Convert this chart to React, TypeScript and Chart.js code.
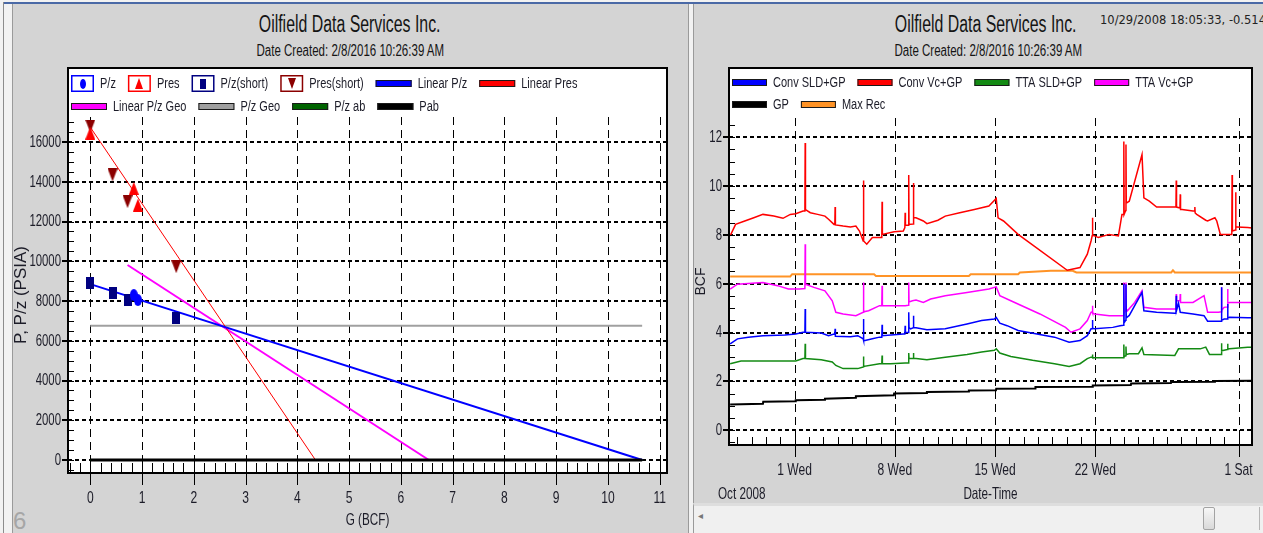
import React, { useEffect, useRef } from "react";
import { Chart, registerables } from "chart.js";

Chart.register(...registerables);

// ================= Left chart: P/z vs cumulative gas =================
const gTicks = [0, 1, 2, 3, 4, 5, 6, 7, 8, 9, 10, 11];
const pTicks = [0, 2000, 4000, 6000, 8000, 10000, 12000, 14000, 16000];

const pzG = [0.84, 0.92];
const pzVal = [8300, 8050];
const presG = [0, 0.84, 0.92];
const presVal = [16450, 13670, 12830];
const pzShortG = [0, 0.43, 0.72, 1.66];
const pzShortVal = [8890, 8385, 8050, 7130];
const presShortG = [0, 0.43, 0.72, 1.66];
const presShortVal = [16800, 14340, 13000, 9725];
const linearPzG = [0, 10.66];
const linearPzVal = [8850, 0];
const linearPresG = [0, 4.35];
const linearPresVal = [16750, 0];
const linearPzGeoG = [0.72, 6.54];
const linearPzGeoVal = [9810, 0];
const pzGeoG = [0, 10.66];
const pzGeoVal = [6760, 6760];
const pzAbG = [0, 10.66];
const pzAbVal = [0, 0];
const pabG = [0, 10.66];
const pabVal = [0, 0];

// ================= Right chart: BCF vs date (days from Oct 1 2008) =================
const dayTicks = [0, 7, 14, 21, 31];
const dayTickLabels = ["1 Wed", "8 Wed", "15 Wed", "22 Wed", "1 Sat"];
const bcfTicks = [0, 2, 4, 6, 8, 10, 12];

const convSldGp: [number, number][] = [
  [-4.5, 3.53], [-3.99, 3.74], [-3.23, 3.81], [-2.21, 3.87], [-0.68, 3.9], [0.08, 3.94], [0.59, 4.01],
  [0.72, 4.01], [0.74, 4.96], [0.76, 4.01], [1.86, 3.98], [2.37, 3.87], [2.75, 3.94], [2.81, 3.92],
  [2.83, 4.15], [2.85, 3.85], [3.9, 3.83], [4.41, 3.87], [4.79, 3.74], [4.81, 4.55], [4.83, 3.67],
  [4.92, 3.67], [5.43, 3.74], [5.93, 3.81], [6.09, 3.81], [6.11, 4.32], [6.13, 3.87], [7.59, 3.94],
  [7.7, 3.94], [7.72, 4.28], [7.74, 4.0], [7.95, 4.0], [7.97, 4.83], [7.99, 4.2], [8.1, 4.15],
  [8.28, 4.19], [8.3, 4.69], [8.32, 4.19], [8.48, 4.19], [9.24, 4.11], [10.52, 4.15], [12.04, 4.35],
  [13.06, 4.49], [13.95, 4.55], [14.08, 4.62], [14.33, 4.38], [14.84, 4.28], [15.61, 4.08],
  [18.15, 3.81], [19.17, 3.6], [19.93, 3.67], [20.44, 3.87], [20.7, 4.15], [20.78, 4.15],
  [20.8, 4.51], [20.82, 4.18], [20.95, 4.15], [22.22, 4.21], [22.73, 4.28], [22.97, 4.3],
  [22.99, 5.98], [23.01, 4.4], [23.12, 4.5], [23.14, 5.98], [23.16, 4.6], [23.37, 4.7],
  [24.26, 5.64], [24.39, 4.89], [25.28, 4.83], [26.55, 4.79], [26.63, 4.79], [26.65, 5.51],
  [26.67, 4.9], [26.81, 5.2], [26.93, 4.83], [27.82, 4.76], [28.59, 4.69], [28.84, 4.46],
  [29.73, 4.46], [29.79, 4.46], [29.81, 5.85], [29.83, 4.5], [29.99, 4.55], [30.22, 4.55],
  [30.24, 5.17], [30.26, 4.6], [30.37, 4.62], [31.64, 4.6], [32.61, 4.6],
];

const convVcGp: [number, number][] = [
  [-4.5, 7.96], [-4.12, 8.43], [-3.48, 8.57], [-2.85, 8.7], [-2.21, 8.84], [-1.45, 8.77], [-0.81, 8.68],
  [-0.3, 8.84], [0.08, 8.87], [0.59, 8.98], [0.72, 8.98], [0.74, 11.77], [0.76, 9.04], [1.1, 8.91],
  [1.61, 8.84], [2.12, 8.77], [2.37, 8.64], [2.75, 8.43], [2.81, 8.43], [2.83, 9.14], [2.85, 8.41],
  [3.39, 8.36], [3.9, 8.32], [4.28, 8.36], [4.53, 8.16], [4.79, 7.75], [4.81, 10.23], [4.83, 7.75],
  [5.04, 7.62], [5.43, 7.89], [5.93, 7.89], [6.09, 7.89], [6.11, 9.36], [6.13, 8.02], [6.95, 8.13],
  [7.59, 8.16], [7.7, 8.3], [7.72, 8.91], [7.74, 8.4], [7.95, 8.4], [7.97, 10.45], [7.99, 8.43],
  [8.28, 8.45], [8.3, 10.13], [8.32, 8.7], [8.48, 8.7], [8.99, 8.57], [9.24, 8.46], [10.01, 8.6],
  [10.52, 8.77], [11.53, 8.91], [12.55, 9.04], [13.57, 9.18], [14.08, 9.49], [14.21, 8.7],
  [14.59, 8.57], [15.61, 8.02], [19.04, 6.55], [19.93, 6.66], [20.44, 7.21], [20.7, 7.75],
  [20.78, 7.96], [20.8, 8.7], [20.82, 8.0], [20.95, 7.96], [21.21, 7.89], [21.97, 8.02],
  [22.35, 7.98], [22.61, 7.96], [22.86, 8.84], [22.97, 8.84], [22.99, 11.83], [23.01, 8.84],
  [23.12, 9.0], [23.14, 11.7], [23.16, 9.3], [23.37, 9.38], [24.26, 11.29], [24.39, 9.52],
  [24.77, 9.38], [25.28, 9.14], [26.55, 9.14], [26.63, 9.14], [26.65, 10.23], [26.67, 9.14],
  [26.91, 9.1], [26.93, 9.66], [26.95, 9.04], [27.06, 9.04], [27.82, 8.98], [27.93, 8.98],
  [27.95, 9.14], [27.97, 8.9], [28.08, 8.84], [28.71, 8.6], [28.84, 8.57], [29.35, 8.7],
  [29.48, 8.57], [29.73, 8.02], [30.37, 8.02], [30.53, 8.02], [30.55, 10.45], [30.57, 8.16],
  [30.78, 8.2], [30.8, 9.75], [30.82, 8.32], [30.88, 8.32], [31.64, 8.3], [32.61, 8.23],
];

const ttaSldGp: [number, number][] = [
  [-4.5, 2.72], [-3.74, 2.83], [0.08, 2.83], [0.59, 2.93], [0.72, 2.93], [0.74, 3.54], [0.76, 2.93],
  [1.86, 2.88], [2.63, 2.79], [2.88, 2.65], [3.39, 2.52], [4.41, 2.52], [4.79, 2.59], [4.81, 3.02],
  [4.83, 2.61], [5.93, 2.72], [6.09, 2.72], [6.11, 3.06], [6.13, 2.72], [6.7, 2.72], [7.72, 2.75],
  [7.95, 2.75], [7.97, 3.16], [7.99, 2.93], [8.28, 2.93], [8.3, 3.16], [8.32, 2.93], [8.48, 2.93],
  [9.24, 2.88], [10.52, 2.99], [12.04, 3.1], [13.06, 3.2], [13.95, 3.27], [14.08, 3.33],
  [14.33, 3.16], [15.1, 3.02], [16.62, 2.86], [18.15, 2.72], [19.17, 2.61], [19.93, 2.72],
  [20.44, 2.93], [20.7, 2.99], [20.78, 2.99], [20.8, 3.1], [20.82, 2.97], [22.86, 2.97],
  [22.97, 2.97], [22.99, 3.51], [23.01, 3.0], [23.12, 3.05], [23.14, 3.43], [23.16, 3.1],
  [23.37, 3.13], [24.01, 3.13], [24.26, 3.37], [24.39, 3.1], [26.55, 3.06], [26.81, 3.33],
  [28.33, 3.33], [28.71, 3.4], [28.97, 3.1], [29.73, 3.1], [29.79, 3.1], [29.81, 3.56],
  [29.83, 3.25], [29.99, 3.27], [30.22, 3.3], [30.24, 3.54], [30.26, 3.33], [30.37, 3.33],
  [31.64, 3.4], [32.61, 3.4],
];

const ttaVcGp: [number, number][] = [
  [-4.5, 5.78], [-3.99, 5.98], [-3.23, 6.01], [-2.21, 6.05], [-1.19, 5.92], [-0.43, 5.78], [0.34, 5.78],
  [0.72, 5.8], [0.74, 7.62], [0.76, 5.98], [1.35, 5.85], [2.12, 5.71], [2.63, 5.3], [2.88, 4.83],
  [3.39, 4.76], [4.28, 4.69], [4.79, 4.83], [4.81, 6.05], [4.83, 4.85], [5.17, 4.89], [5.93, 5.1],
  [6.09, 5.1], [6.11, 5.92], [6.13, 5.1], [6.7, 5.1], [7.72, 5.1], [7.95, 5.12], [7.97, 6.05],
  [7.99, 5.25], [8.23, 5.3], [8.48, 5.33], [8.99, 5.23], [9.5, 5.37], [10.52, 5.51], [12.04, 5.64],
  [13.57, 5.78], [14.08, 5.87], [14.33, 5.51], [15.1, 5.3], [17.13, 4.76], [18.92, 4.21],
  [19.3, 4.01], [19.93, 4.15], [20.44, 4.49], [20.7, 4.83], [20.78, 4.85], [20.8, 5.1], [20.82, 4.8],
  [20.95, 4.76], [21.97, 4.69], [22.86, 4.69], [22.97, 4.7], [22.99, 6.05], [23.01, 4.8],
  [23.12, 4.9], [23.14, 6.05], [23.16, 4.95], [23.24, 4.89], [23.75, 5.23], [24.26, 5.71],
  [24.39, 5.03], [25.28, 4.96], [26.55, 4.96], [26.63, 4.96], [26.65, 5.58], [26.67, 5.3],
  [26.81, 5.3], [26.91, 5.3], [26.93, 5.58], [26.95, 5.23], [27.31, 5.23], [27.82, 5.23],
  [28.59, 5.51], [28.84, 4.83], [29.61, 4.83], [29.79, 4.85], [29.81, 5.85], [29.83, 4.9],
  [29.99, 5.03], [30.22, 5.05], [30.24, 5.78], [30.26, 5.2], [30.37, 5.23], [31.64, 5.23],
  [32.61, 5.23],
];

const gpSeries: [number, number][] = [
  [-4.5, 1.05], [-2.21, 1.08], [-2.19, 1.16], [0.06, 1.18], [0.08, 1.22], [2.1, 1.24], [2.12, 1.29],
  [4.26, 1.33], [4.28, 1.39], [6.93, 1.43], [6.95, 1.5], [9.22, 1.52], [9.24, 1.56], [12.15, 1.58],
  [12.17, 1.62], [14.06, 1.63], [14.08, 1.7], [16.8, 1.71], [16.82, 1.77], [20.8, 1.78],
  [20.82, 1.83], [23.48, 1.85], [23.5, 1.91], [26.28, 1.93], [26.3, 1.97], [29.33, 1.98],
  [29.35, 2.01], [32.61, 2.02],
];

const maxRec: [number, number][] = [
  [-4.5, 6.3], [-0.3, 6.3], [-0.17, 6.39], [5.55, 6.39], [5.68, 6.32], [12.17, 6.32], [12.3, 6.39],
  [15.61, 6.39], [15.73, 6.46], [17.9, 6.53], [19.42, 6.53], [19.68, 6.46], [26.3, 6.46],
  [26.42, 6.55], [26.55, 6.46], [32.61, 6.46],
];

// ================= helpers =================
const SANS = '"Liberation Sans", Arial, sans-serif';
const SQ = 0.71;
const TXT = "#1c1c28";

const pts = (xs: number[], ys: number[]) => xs.map((x, i) => ({ x, y: ys[i] }));
const pairs = (a: [number, number][]) => a.map(([x, y]) => ({ x, y }));

// Draw horizontally condensed text (the reference uses a narrow face)
function sqText(ctx: CanvasRenderingContext2D, text: string, x: number, y: number, align: string, size: number) {
  ctx.save();
  ctx.font = `${size}px ${SANS}`;
  ctx.textBaseline = "middle";
  ctx.textAlign = "left";
  ctx.fillStyle = TXT;
  const w = ctx.measureText(text).width * SQ;
  const x0 = align === "left" ? x : align === "center" ? x - w / 2 : x - w;
  ctx.translate(x0, y);
  ctx.scale(SQ, 1);
  ctx.fillText(text, 0, 0);
  ctx.restore();
  return w;
}

function makeMarker(shape: string, fill: string, w: number, h: number): HTMLCanvasElement {
  const c = document.createElement("canvas");
  c.width = w;
  c.height = h;
  const g = c.getContext("2d")!;
  g.fillStyle = fill;
  g.beginPath();
  if (shape === "ellipse") g.ellipse(w / 2, h / 2, w / 2, h / 2, 0, 0, Math.PI * 2);
  else if (shape === "tri") {
    g.moveTo(w / 2, 0);
    g.lineTo(w, h);
    g.lineTo(0, h);
    g.closePath();
  } else if (shape === "dtri") {
    g.moveTo(0, 0);
    g.lineTo(w, 0);
    g.lineTo(w / 2, h);
    g.closePath();
  } else g.rect(0, 0, w, h);
  g.fill();
  return c;
}

type FrameCfg = {
  boxTop: number;
  xMinorStep: number;
  yMinorStep: number;
  xMajor: number[];
  yMajor: number[];
  xMinorLen: number;
  xLabelSize: number;
  yLabelSize: number;
  xTitle: string;
  xTitleY: number;
  xTitleSize: number;
};

function framePlugin(cfg: FrameCfg) {
  return {
    id: "panelFrame",
    beforeDraw(chart: any) {
      const { ctx, chartArea: a } = chart;
      ctx.save();
      ctx.fillStyle = "#ffffff";
      ctx.fillRect(a.left, cfg.boxTop, a.right - a.left, a.bottom - cfg.boxTop);
      ctx.restore();
    },
    beforeDatasetsDraw(chart: any) {
      const { ctx, chartArea: a, scales } = chart;
      const xs = scales.x;
      const ys = scales.y;
      ctx.save();
      ctx.strokeStyle = "#000";
      ctx.lineWidth = 1;
      ctx.setLineDash([8, 5]);
      for (const v of cfg.xMajor) {
        const px = Math.round(xs.getPixelForValue(v)) + 0.5;
        ctx.beginPath();
        ctx.moveTo(px, a.top);
        ctx.lineTo(px, a.bottom);
        ctx.stroke();
      }
      ctx.lineWidth = 2;
      ctx.setLineDash([4, 3]);
      for (const v of cfg.yMajor) {
        const py = Math.round(ys.getPixelForValue(v));
        ctx.beginPath();
        ctx.moveTo(a.left, py);
        ctx.lineTo(a.right, py);
        ctx.stroke();
      }
      ctx.restore();
    },
    afterDatasetsDraw(chart: any) {
      const { ctx, chartArea: a, scales } = chart;
      const xs = scales.x;
      const ys = scales.y;
      ctx.save();
      ctx.strokeStyle = "#000";
      ctx.setLineDash([]);
      ctx.lineWidth = 1;
      ctx.beginPath();
      const y0 = Math.ceil(ys.min / cfg.yMinorStep - 1e-6);
      const y1 = Math.floor(ys.max / cfg.yMinorStep + 1e-6);
      for (let i = y0; i <= y1; i++) {
        const py = Math.round(ys.getPixelForValue(i * cfg.yMinorStep)) + 0.5;
        ctx.moveTo(a.left, py);
        ctx.lineTo(a.left + 6, py);
      }
      const x0 = Math.ceil(xs.min / cfg.xMinorStep - 1e-6);
      const x1 = Math.floor(xs.max / cfg.xMinorStep + 1e-6);
      for (let i = x0; i <= x1; i++) {
        const px = Math.round(xs.getPixelForValue(i * cfg.xMinorStep)) + 0.5;
        ctx.moveTo(px, a.bottom);
        ctx.lineTo(px, a.bottom - cfg.xMinorLen);
      }
      for (const v of cfg.xMajor) {
        const px = Math.round(xs.getPixelForValue(v)) + 0.5;
        ctx.moveTo(px, a.bottom);
        ctx.lineTo(px, a.bottom + 12);
      }
      ctx.stroke();
      ctx.lineWidth = 2;
      ctx.beginPath();
      for (const v of cfg.yMajor) {
        const py = Math.round(ys.getPixelForValue(v));
        ctx.moveTo(a.left - 6, py);
        ctx.lineTo(a.left, py);
      }
      ctx.stroke();
      ctx.strokeRect(Math.round(a.left), cfg.boxTop, Math.round(a.right - a.left), Math.round(a.bottom - cfg.boxTop));
      ctx.restore();

      // tick labels from the scales' own ticks
      xs.ticks.forEach((t: any) => {
        const label = String(t.label ?? t.value);
        sqText(ctx, label, xs.getPixelForValue(t.value), a.bottom + 25, "center", cfg.xLabelSize);
      });
      ys.ticks.forEach((t: any) => {
        const label = String(t.label ?? t.value);
        sqText(ctx, label, a.left - 7, ys.getPixelForValue(t.value) + 0.5, "right", cfg.yLabelSize);
      });
      sqText(ctx, cfg.xTitle, (a.left + a.right) / 2, cfg.xTitleY, "center", cfg.xTitleSize);
    },
  };
}

function legendPlugin(cfg: { x0: number; rows: number[]; right: number; swatchW: number }) {
  return {
    id: "boxLegend",
    afterDraw(chart: any) {
      const { ctx } = chart;
      ctx.save();
      let x = cfg.x0;
      let row = 0;
      for (const ds of chart.data.datasets as any[]) {
        const isMarker = ds.showLine === false;
        const sw = isMarker ? 23 : cfg.swatchW;
        ctx.font = `15.5px ${SANS}`;
        const tw = ctx.measureText(ds.label).width * SQ;
        const w = sw + 6 + tw;
        if (x + w > cfg.right && x > cfg.x0) {
          row++;
          x = cfg.x0;
        }
        const cy = cfg.rows[row];
        if (isMarker) {
          ctx.fillStyle = "#fff";
          ctx.fillRect(x, cy - 8, 23, 17);
          ctx.strokeStyle = ds.borderColor;
          ctx.lineWidth = 1.5;
          ctx.strokeRect(x + 0.75, cy - 7.25, 21.5, 15.5);
          const m = ds.legendMarker as HTMLCanvasElement;
          ctx.drawImage(m, Math.round(x + 11.5 - m.width / 2), Math.round(cy + 0.5 - m.height / 2));
        } else {
          ctx.fillStyle = ds.borderColor;
          ctx.fillRect(x, cy - 3, sw, 7);
          ctx.strokeStyle = "#1a1a1a";
          ctx.lineWidth = 1;
          ctx.strokeRect(x + 0.5, cy - 2.5, sw - 1, 6);
        }
        sqText(ctx, ds.label, x + sw + 6, cy + 1, "left", 15.5);
        x += w + 12;
      }
      ctx.restore();
    },
  };
}

const monthLabelPlugin = {
  id: "monthLabel",
  afterDraw(chart: any) {
    const { ctx, chartArea: a } = chart;
    sqText(ctx, "Oct 2008", a.left - 11, 434, "left", 16.5);
  },
};

function lineDs(label: string, data: any[], color: string, width: number, order = 0) {
  return {
    label,
    data,
    showLine: true,
    borderColor: color,
    backgroundColor: color,
    borderWidth: width,
    pointRadius: 0,
    pointHoverRadius: 0,
    tension: 0,
    order,
  };
}

function markerDs(label: string, data: any[], color: string, marker: HTMLCanvasElement, legendMarker: HTMLCanvasElement) {
  return {
    label,
    data,
    showLine: false,
    borderColor: color,
    backgroundColor: color,
    pointStyle: marker,
    pointRadius: 5,
    pointHoverRadius: 5,
    legendMarker,
    order: -2,
  };
}

const hiddenTicks = { display: false, autoSkip: false, maxRotation: 0 };

function leftConfig(): any {
  const ellipse = makeMarker("ellipse", "#0000ff", 8, 12);
  const tri = makeMarker("tri", "#ff0000", 10, 13);
  const rect = makeMarker("rect", "#000080", 8, 12);
  const dtri = makeMarker("dtri", "#8b0000", 10, 13);
  return {
    type: "scatter",
    data: {
      datasets: [
        markerDs("P/z", pts(pzG, pzVal), "#0000ff", ellipse, makeMarker("ellipse", "#0000ff", 6, 10)),
        markerDs("Pres", pts(presG, presVal), "#ff0000", tri, makeMarker("tri", "#ff0000", 8, 11)),
        markerDs("P/z(short)", pts(pzShortG, pzShortVal), "#000080", rect, makeMarker("rect", "#000080", 6, 10)),
        markerDs("Pres(short)", pts(presShortG, presShortVal), "#8b0000", dtri, makeMarker("dtri", "#8b0000", 8, 11)),
        lineDs("Linear P/z", pts(linearPzG, linearPzVal), "#0000ff", 2),
        lineDs("Linear Pres", pts(linearPresG, linearPresVal), "#ff0000", 1),
        lineDs("Linear P/z Geo", pts(linearPzGeoG, linearPzGeoVal), "#ff00ff", 2),
        lineDs("P/z Geo", pts(pzGeoG, pzGeoVal), "#a0a0a0", 2),
        lineDs("P/z ab", pts(pzAbG, pzAbVal), "#006400", 2),
        lineDs("Pab", pts(pabG, pabVal), "#000000", 3, -1),
      ],
    },
    options: {
      responsive: false,
      animation: false,
      events: [],
      layout: { padding: { left: 0, top: 57, right: 21, bottom: 0 } },
      plugins: { legend: { display: false }, tooltip: { enabled: false }, title: { display: false } },
      scales: {
        x: {
          type: "linear",
          min: -0.43,
          max: 11.14,
          afterBuildTicks: (s: any) => {
            s.ticks = gTicks.map((v) => ({ value: v }));
          },
          afterFit: (s: any) => {
            s.height = 60;
          },
          grid: { display: false, drawTicks: false },
          border: { display: false },
          ticks: { ...hiddenTicks, callback: (v: any) => String(v) },
          title: { display: false },
        },
        y: {
          type: "linear",
          min: -654,
          max: 17258,
          afterBuildTicks: (s: any) => {
            s.ticks = pTicks.map((v) => ({ value: v }));
          },
          afterFit: (s: any) => {
            s.width = 55;
          },
          grid: { display: false, drawTicks: false },
          border: { display: false },
          ticks: { ...hiddenTicks, callback: (v: any) => String(v) },
          title: {
            display: true,
            text: "P, P/z (PSIA)",
            color: TXT,
            font: { family: SANS, size: 17, lineHeight: 1 },
            padding: { top: 0, bottom: 0 },
          },
        },
      },
    },
    plugins: [
      framePlugin({
        boxTop: 8,
        xMinorStep: 0.2,
        yMinorStep: 500,
        xMajor: gTicks,
        yMajor: pTicks,
        xMinorLen: 10,
        xLabelSize: 17,
        yLabelSize: 16,
        xTitle: "G (BCF)",
        xTitleY: 460,
        xTitleSize: 16.5,
      }),
      legendPlugin({ x0: 58, rows: [23, 46], right: 650, swatchW: 36 }),
    ],
  };
}

function rightConfig(): any {
  return {
    type: "scatter",
    data: {
      datasets: [
        lineDs("Conv SLD+GP", pairs(convSldGp), "#0000ff", 1.5),
        lineDs("Conv Vc+GP", pairs(convVcGp), "#ff0000", 1.5),
        lineDs("TTA SLD+GP", pairs(ttaSldGp), "#138a13", 1.5),
        lineDs("TTA Vc+GP", pairs(ttaVcGp), "#ff00ff", 1.5),
        lineDs("GP", pairs(gpSeries), "#000000", 2),
        lineDs("Max Rec", pairs(maxRec), "#ff9326", 2),
      ],
    },
    options: {
      responsive: false,
      animation: false,
      events: [],
      layout: { padding: { left: 0, top: 58, right: 11, bottom: 0 } },
      plugins: { legend: { display: false }, tooltip: { enabled: false }, title: { display: false } },
      scales: {
        x: {
          type: "linear",
          min: -4.58,
          max: 31.94,
          afterBuildTicks: (s: any) => {
            s.ticks = dayTicks.map((v) => ({ value: v }));
          },
          afterFit: (s: any) => {
            s.height = 58;
          },
          grid: { display: false, drawTicks: false },
          border: { display: false },
          ticks: { ...hiddenTicks, callback: (_v: any, i: number) => dayTickLabels[i] },
          title: { display: false },
        },
        y: {
          type: "linear",
          min: -0.61,
          max: 12.79,
          afterBuildTicks: (s: any) => {
            s.ticks = bcfTicks.map((v) => ({ value: v }));
          },
          afterFit: (s: any) => {
            s.width = 34;
          },
          grid: { display: false, drawTicks: false },
          border: { display: false },
          ticks: { ...hiddenTicks, callback: (v: any) => String(v) },
          title: {
            display: true,
            text: "BCF",
            color: TXT,
            font: { family: SANS, size: 14, lineHeight: 0.9 },
            padding: { top: 0, bottom: 0 },
          },
        },
      },
    },
    plugins: [
      framePlugin({
        boxTop: 8,
        xMinorStep: 1,
        yMinorStep: 0.5,
        xMajor: dayTicks,
        yMajor: bcfTicks,
        xMinorLen: 8,
        xLabelSize: 17,
        yLabelSize: 16,
        xTitle: "Date-Time",
        xTitleY: 434,
        xTitleSize: 16.5,
      }),
      legendPlugin({ x0: 37, rows: [22, 44], right: 553, swatchW: 35 }),
      monthLabelPlugin,
    ],
  };
}

function Squashed(props: { cx: number; top: number; size: number; sx: number; text: string; lh: number }) {
  return (
    <div
      style={{
        position: "absolute",
        left: props.cx - 300,
        top: props.top,
        width: 600,
        height: props.lh,
        lineHeight: `${props.lh}px`,
        textAlign: "center",
        fontFamily: SANS,
        fontSize: props.size,
        color: "#141414",
        whiteSpace: "nowrap",
      }}
    >
      <span style={{ display: "inline-block", transform: `scaleX(${props.sx})`, transformOrigin: "50% 50%" }}>{props.text}</span>
    </div>
  );
}

export default function App() {
  const leftRef = useRef<HTMLCanvasElement>(null);
  const rightRef = useRef<HTMLCanvasElement>(null);

  useEffect(() => {
    const left = new Chart(leftRef.current!, leftConfig());
    const right = new Chart(rightRef.current!, rightConfig());
    return () => {
      left.destroy();
      right.destroy();
    };
  }, []);

  const abs = (s: React.CSSProperties): React.CSSProperties => ({ position: "absolute", ...s });

  return (
    <div style={abs({ left: 0, top: 0, width: 1263, height: 533, overflow: "hidden", background: "#f2f2f2" })}>
      {/* window frame */}
      <div style={abs({ left: 4, top: 2, width: 1259, height: 2, background: "#4a69a6" })} />
      <div style={abs({ left: 3, top: 2, width: 1, height: 531, background: "#8c8c8c" })} />
      {/* left panel */}
      <div
        style={abs({
          left: 12,
          top: 4,
          width: 677,
          height: 529,
          background: "#d4d4d4",
          borderLeft: "1px solid #9a9a9a",
          borderRight: "1px solid #9a9a9a",
          boxSizing: "border-box",
        })}
      />
      {/* right panel */}
      <div
        style={abs({
          left: 693,
          top: 4,
          width: 570,
          height: 499,
          background: "#d4d4d4",
          borderLeft: "1px solid #9a9a9a",
          boxSizing: "border-box",
        })}
      />
      {/* scrollbar */}
      <div
        style={abs({
          left: 693,
          top: 503,
          width: 570,
          height: 30,
          background: "#f0f0f0",
          borderTop: "3px solid #dedede",
          borderLeft: "1px solid #9a9a9a",
          boxSizing: "border-box",
        })}
      />
      <div style={abs({ left: 698, top: 510, fontSize: 10, color: "#777", fontFamily: SANS })}>◂</div>
      <div
        style={abs({
          left: 1203,
          top: 507,
          width: 12,
          height: 23,
          borderRadius: 2,
          border: "1px solid #a3a3a3",
          background: "linear-gradient(#f7f7f7, #d9d9d9)",
          boxSizing: "border-box",
        })}
      />
      <div style={abs({ left: 1259, top: 507, width: 4, height: 23, borderLeft: "1px solid #b5b5b5" })} />

      {/* titles */}
      <Squashed cx={350} top={10} size={23} sx={0.69} lh={28} text="Oilfield Data Services Inc." />
      <Squashed cx={350} top={41} size={16} sx={0.72} lh={20} text="Date Created: 2/8/2016 10:26:39 AM" />
      <Squashed cx={986} top={10} size={23} sx={0.69} lh={28} text="Oilfield Data Services Inc." />
      <Squashed cx={988} top={41} size={16} sx={0.72} lh={20} text="Date Created: 2/8/2016 10:26:39 AM" />
      <div
        style={abs({
          left: 1100,
          top: 13,
          fontFamily: '"DejaVu Sans", sans-serif',
          fontSize: 11.5,
          lineHeight: "14px",
          color: "#222",
          whiteSpace: "nowrap",
        })}
      >
        10/29/2008 18:05:33, -0.514
      </div>
      <div style={abs({ left: 13, top: 506, fontFamily: SANS, fontSize: 24, lineHeight: "30px", color: "#a6a6a6" })}>6</div>

      <canvas ref={leftRef} width={675} height={473} style={abs({ left: 13, top: 60, display: "block" })} />
      <canvas ref={rightRef} width={568} height={443} style={abs({ left: 695, top: 60, display: "block" })} />
    </div>
  );
}
